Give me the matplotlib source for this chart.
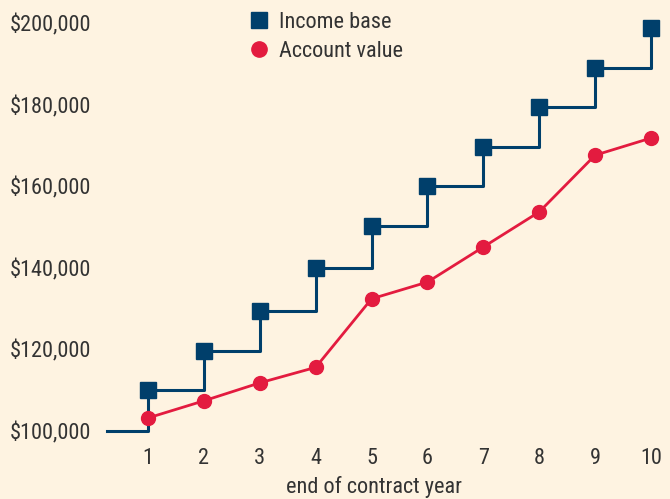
import matplotlib
matplotlib.use("Agg")
import matplotlib.pyplot as plt
from matplotlib.lines import Line2D
from matplotlib.ticker import FuncFormatter

plt.rcParams['font.family'] = ['Roboto Condensed', 'DejaVu Sans']
plt.rcParams['font.stretch'] = 'condensed'

years = [1, 2, 3, 4, 5, 6, 7, 8, 9, 10]
income_base = [110000, 119600, 129400, 140000, 150200, 160000, 169700, 179300, 189000, 198700]
account_value = [103200, 107400, 111800, 115600, 132400, 136500, 145100, 153700, 167600, 171800]
start_value = 100000
y_ticks = [100000, 120000, 140000, 160000, 180000, 200000]

bg = '#FEF3E1'
navy = '#003F6B'
red = '#E31B3F'
text_c = '#333333'
fs = 16

fig = plt.figure(figsize=(6.70, 4.99), dpi=100, facecolor=bg)
ax = fig.add_axes([107/670, 1-431/499, 563/670, 408/499], facecolor=bg)

x0 = 0.266
step_x = [x0] + years
step_y = [start_value] + income_base
ax.plot(step_x, step_y, drawstyle='steps-post', color=navy, lw=2.2, clip_on=False, zorder=2)
ax.plot(years, income_base, ls='none', marker='s', ms=11.5, color=navy, clip_on=False, zorder=3)
ax.plot(years, account_value, color=red, lw=2.0, marker='o', ms=10, clip_on=False, zorder=4)

ax.set_xlim(x0, 10.34)
ax.set_ylim(100000, 200000)
ax.set_xticks(years)
ax.set_yticks(y_ticks)
ax.yaxis.set_major_formatter(FuncFormatter(lambda v, p: f"${v:,.0f}"))
ax.tick_params(axis='both', length=0, labelsize=fs, colors=text_c)
ax.tick_params(axis='y', pad=11.5)
ax.tick_params(axis='x', pad=12)
for s in ax.spines.values():
    s.set_visible(False)

ax.set_xlabel('end of contract year', fontsize=fs, color=text_c, va='center')
ax.xaxis.set_label_coords((374-107)/563, (431-487)/408)

handles = [Line2D([], [], ls='none', marker='s', ms=12, color=navy),
           Line2D([], [], ls='none', marker='o', ms=11, color=red)]
leg = ax.legend(handles, ['Income base', 'Account value'], loc='upper left',
                bbox_to_anchor=((248-107)/563, (431-12)/408), frameon=False,
                fontsize=fs, handlelength=1.0, handletextpad=0.4, labelspacing=0.35,
                borderaxespad=0, borderpad=0)
for t in leg.get_texts():
    t.set_color(text_c)

fig.savefig('out.png', dpi=100, facecolor=bg)
